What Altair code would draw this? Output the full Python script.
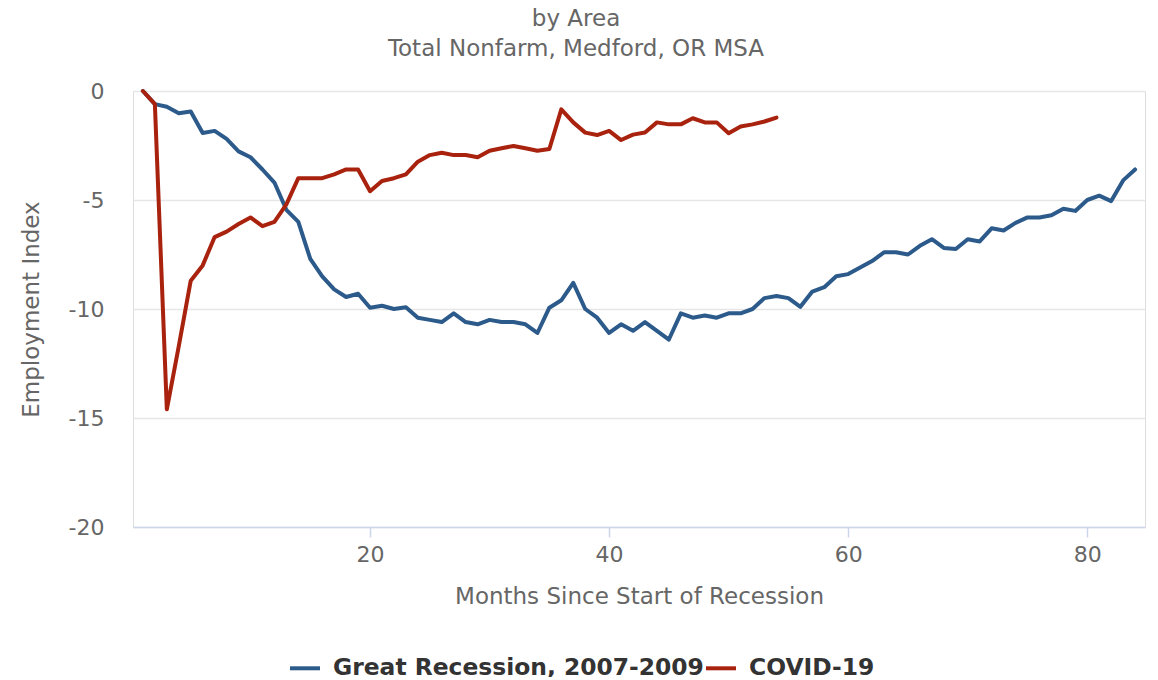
import altair as alt
import pandas as pd

# ---- data ----
series_names = ["Great Recession, 2007-2009", "COVID-19"]

great_recession_months = list(range(1, 85))
great_recession_values = [
    0.0, -0.6, -0.72, -1.02, -0.94, -1.93, -1.83, -2.2, -2.77, -3.04,
    -3.6, -4.2, -5.45, -6.0, -7.7, -8.5, -9.1, -9.45, -9.3, -9.94,
    -9.85, -10.0, -9.92, -10.4, -10.5, -10.6, -10.2, -10.6, -10.7, -10.5,
    -10.6, -10.6, -10.7, -11.1, -9.94, -9.6, -8.8, -10.0, -10.4, -11.1,
    -10.7, -11.0, -10.6, -11.0, -11.4, -10.2, -10.4, -10.3, -10.4, -10.2,
    -10.2, -10.0, -9.5, -9.4, -9.5, -9.9, -9.2, -9.0, -8.5, -8.4,
    -8.1, -7.8, -7.4, -7.4, -7.5, -7.1, -6.8, -7.2, -7.25, -6.8,
    -6.9, -6.3, -6.4, -6.05, -5.8, -5.8, -5.7, -5.4, -5.5, -5.0,
    -4.8, -5.05, -4.1, -3.6,
]

covid_months = list(range(1, 55))
covid_values = [
    0.0, -0.6, -14.6, -11.7, -8.7, -8.0, -6.7, -6.45, -6.1, -5.8,
    -6.2, -6.0, -5.2, -4.0, -4.0, -4.0, -3.82, -3.6, -3.6, -4.6,
    -4.13, -4.0, -3.82, -3.24, -2.94, -2.83, -2.94, -2.94, -3.04, -2.74,
    -2.63, -2.52, -2.63, -2.74, -2.66, -0.84, -1.44, -1.91, -2.02, -1.83,
    -2.25, -2.0, -1.9, -1.44, -1.53, -1.53, -1.25, -1.44, -1.44, -1.94,
    -1.63, -1.53, -1.4, -1.22,
]

x_ticks = [20, 40, 60, 80]
y_ticks = [0, -5, -10, -15, -20]
title_lines = ["by Area", "Total Nonfarm, Medford, OR MSA"]
colors = ["#2C5A8A", "#A8220E"]

# ---- build long table ----
df = pd.concat([
    pd.DataFrame({"month": great_recession_months, "value": great_recession_values,
                  "series": series_names[0], "order": 0}),
    pd.DataFrame({"month": covid_months, "value": covid_values,
                  "series": series_names[1], "order": 1}),
], ignore_index=True)

FONT = "DejaVu Sans"

chart = alt.Chart(df).mark_line(strokeWidth=4, strokeJoin="round", strokeCap="round").encode(
    x=alt.X("month:Q",
            scale=alt.Scale(domain=[0.17, 84.83], nice=False, zero=False),
            axis=alt.Axis(values=x_ticks, grid=False, domainColor="#ccd6eb", domainWidth=1.5,
                          tickColor="#ccd6eb", tickSize=10, tickWidth=1.5,
                          labelFontSize=22, labelColor="#666666", labelFont=FONT, labelPadding=7,
                          title="Months Since Start of Recession", titleFontSize=23,
                          titleFontWeight="normal", titleColor="#666666", titleFont=FONT,
                          titleBaseline="alphabetic", titleY=76)),
    y=alt.Y("value:Q",
            scale=alt.Scale(domain=[-20, 0], nice=False, zero=False),
            axis=alt.Axis(values=y_ticks, grid=True, gridColor="#e6e6e6", gridWidth=1.5,
                          domain=False, ticks=False, labelExpr="toString(datum.value)",
                          labelFontSize=22, labelColor="#666666", labelFont=FONT, labelPadding=29,
                          title="Employment Index", titleFontSize=23, titleFontWeight="normal",
                          titleColor="#666666", titleFont=FONT, titleAngle=270,
                          titleAlign="center", titleBaseline="middle", titleX=-102, titleY=218)),
    color=alt.Color("series:N",
                    scale=alt.Scale(domain=series_names, range=colors),
                    legend=alt.Legend(title=None, orient="none", direction="horizontal",
                                      legendX=155, legendY=560,
                                      symbolType="stroke", symbolSize=900, symbolStrokeWidth=4,
                                      labelFontSize=23.4, labelFontWeight="bold", labelColor="#333333",
                                      labelFont=FONT, labelOffset=11, columnPadding=-12, labelLimit=0)),
    order="order:O",
).properties(
    width=1012,
    height=436,
    autosize=alt.AutoSizeParams(type="none"),
    padding={"left": 125, "top": 83, "right": 5, "bottom": 150},
    title=alt.TitleParams(text=title_lines, fontSize=23, fontWeight="normal", color="#666666",
                          font=FONT, anchor="middle", dx=-63, dy=36, lineHeight=30,
                          baseline="bottom", offset=32),
).configure_view(stroke=None).configure(background="white")

chart.save("out.html", embed_options={"renderer": "svg", "actions": False})
